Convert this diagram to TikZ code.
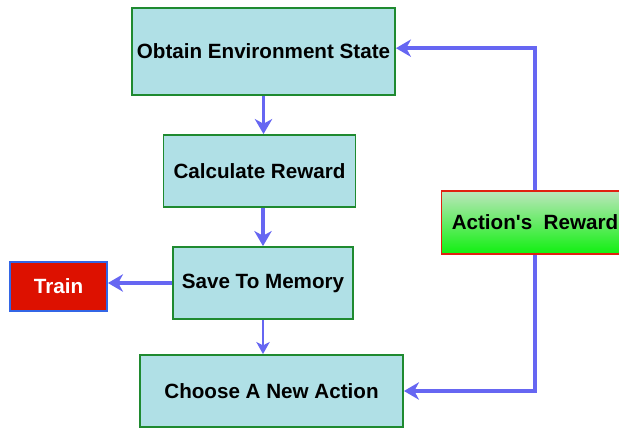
\documentclass[tikz,border=0pt]{standalone}
\usepackage{fontspec}
\setmainfont{Liberation Sans}
\usetikzlibrary{arrows.meta}

\definecolor{boxfill}{HTML}{B0E0E6}
\definecolor{boxline}{HTML}{1F8A30}
\definecolor{flow}{HTML}{6666F2}
\definecolor{trainred}{HTML}{DD1100}
\definecolor{trainline}{HTML}{3366E6}
\definecolor{rewardtop}{HTML}{BCE6BC}
\definecolor{rewardbot}{HTML}{10F010}
\definecolor{rewardline}{HTML}{E02010}

\begin{document}
\begin{tikzpicture}[x=0.03cm, y=-0.03cm,
  font=\fontsize{17.6}{20}\selectfont\bfseries,
  stepbox/.style={draw=boxline, fill=boxfill, line width=1.6pt, align=center, inner sep=0pt},
  flowline/.style={draw=flow, line width=3.3pt, -{Stealth[length=0.45cm, width=0.52cm, inset=0.14cm]}},
  thinflow/.style={draw=flow, line width=1.6pt, -{Stealth[length=0.36cm, width=0.4cm, inset=0.1cm]}}]

\def\px{0.03cm}

\useasboundingbox (0,0) rectangle (619,430);
\clip (0,0) rectangle (619,430);

% main column
\node[stepbox, minimum width=263*\px, minimum height=87*\px] (obtain) at (263.5, 51.5) {Obtain Environment State};
\node[stepbox, minimum width=192*\px, minimum height=72*\px] (calc)   at (259.5, 171)  {Calculate Reward};
\node[stepbox, minimum width=180*\px, minimum height=72*\px] (save)   at (263, 283)    {Save To Memory};
\node[stepbox, minimum width=263*\px, minimum height=72*\px] (choose) at (271.5, 391)  {Choose A New Action};

% side boxes
\node[draw=trainline, fill=trainred, text=white, line width=1.6pt,
      minimum width=97*\px, minimum height=49*\px] (train) at (58.5, 286.5) {Train};
\node[draw=rewardline, line width=1.6pt, top color=rewardtop, bottom color=rewardbot,
      minimum width=187*\px, minimum height=63*\px] (reward) at (535, 222.5) {Action\textquotesingle s\ \ Reward};

% arrows
\draw[flowline] (obtain) -- (obtain |- calc.north);
\draw[flowline] (calc.south -| save) -- (save.north);
\draw[flowline] (save.west) -- (save.west -| train.east);
\draw[thinflow] (save.south) -- (save.south |- choose.north);

% feedback loop
\draw[flowline] (reward.north) |- ([yshift=0.1cm]obtain.east);
\draw[flowline] (reward.south) |- (choose.east);

\end{tikzpicture}
\end{document}
